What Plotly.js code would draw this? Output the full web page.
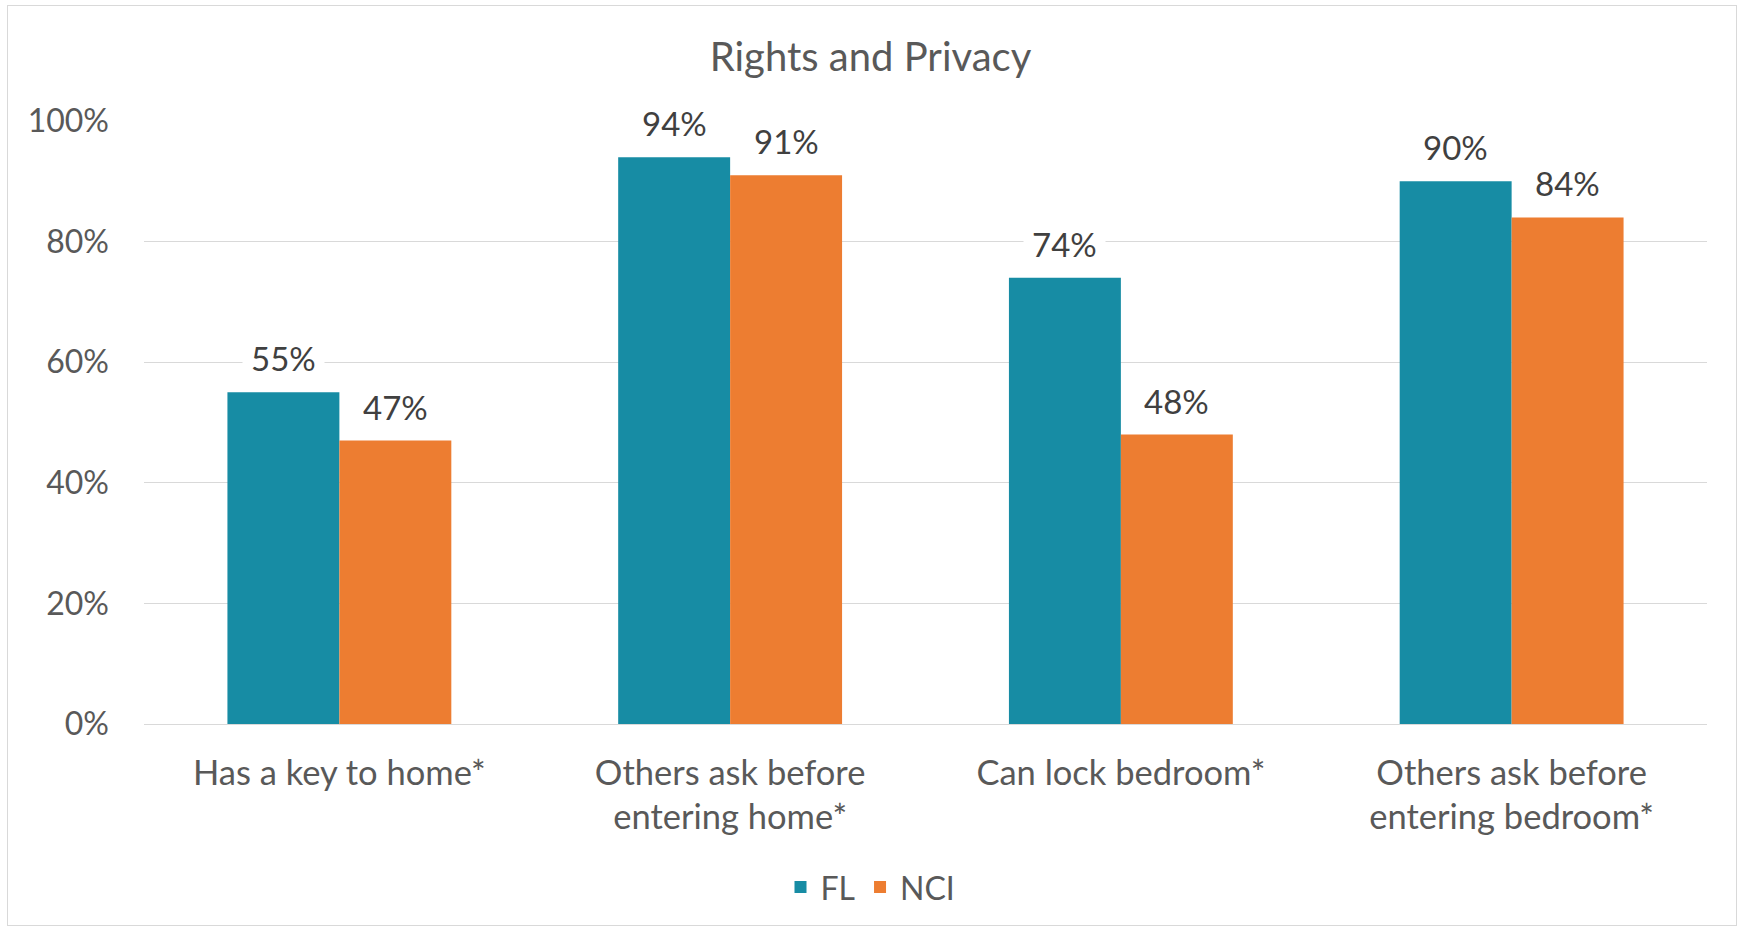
<!DOCTYPE html>
<html>
<head>
<meta charset="utf-8">
<script src="https://cdn.plot.ly/plotly-3.0.1.min.js"></script>
<style>
  html, body { margin: 0; padding: 0; background: #ffffff; }
  #chart { position: absolute; left: 0; top: 0; width: 1741px; height: 930px; }
  #frame { position: absolute; left: 7px; top: 5px; width: 1728px; height: 919px; border: 1px solid #d9d9d9; pointer-events: none; }
</style>
</head>
<body>
<div id="chart"></div>
<div id="frame"></div>
<script>
// ---- data ----
const categories = [
  'Has a key to home*',
  'Others ask before<br>entering home*',
  'Can lock bedroom*',
  'Others ask before<br>entering bedroom*'
];
const seriesNames = ['FL', 'NCI'];
const flValues  = [0.55, 0.94, 0.74, 0.90];
const nciValues = [0.47, 0.91, 0.48, 0.84];
const yTickVals = [0, 0.2, 0.4, 0.6, 0.8, 1.0];
const yTickText = ['0%', '20%', '40%', '60%', '80%', '100%'];
const chartTitle = 'Rights and Privacy';

// ---- style ----
const FONT = 'Lato, "Open Sans", sans-serif';
const colors = ['#178CA4', '#ED7D31'];
const seriesValues = [flValues, nciValues];
const labelXShift = [-56, 56];

const traces = seriesValues.map((vals, i) => ({
  type: 'bar',
  name: seriesNames[i],
  x: categories,
  y: vals,
  marker: { color: colors[i] },
  hoverinfo: 'skip'
}));

const annotations = [];
seriesValues.forEach((vals, i) => {
  vals.forEach((v, j) => {
    annotations.push({
      xref: 'x', yref: 'y',
      x: categories[j], y: v,
      text: Math.round(v * 100) + '%',
      showarrow: false,
      xanchor: 'center', yanchor: 'middle',
      xshift: labelXShift[i], yshift: 34,
      bgcolor: '#ffffff',
      borderpad: 8,
      font: { family: FONT, size: 33, color: '#404040' }
    });
  });
});

const layout = {
  width: 1741,
  height: 930,
  margin: { l: 144, r: 34, t: 121, b: 206 },
  paper_bgcolor: '#ffffff',
  plot_bgcolor: '#ffffff',
  font: { family: FONT, color: '#595959' },
  title: {
    text: chartTitle,
    font: { family: FONT, size: 40, color: '#595959' },
    xref: 'container', x: 0.5, xanchor: 'center',
    yref: 'container', y: 0.939, yanchor: 'middle'
  },
  barmode: 'group',
  bargap: 0.427,
  bargroupgap: 0,
  xaxis: {
    type: 'category',
    showgrid: false,
    showline: false,
    ticks: '',
    ticklabelstandoff: 25,
    tickfont: { family: FONT, size: 34.5, color: '#595959' }
  },
  yaxis: {
    range: [0, 1],
    tickvals: yTickVals,
    ticktext: yTickText,
    showgrid: true,
    gridcolor: '#d9d9d9',
    gridwidth: 1,
    zeroline: true,
    zerolinecolor: '#d9d9d9',
    zerolinewidth: 1,
    showline: false,
    ticks: '',
    ticklabelstandoff: 34,
    tickfont: { family: FONT, size: 32, color: '#595959' }
  },
  showlegend: true,
  legend: {
    orientation: 'h',
    xref: 'container', x: 0.5, xanchor: 'center',
    yref: 'container', y: 0.046, yanchor: 'middle',
    font: { family: FONT, size: 32, color: '#595959' },
    traceorder: 'normal'
  },
  annotations: annotations
};

Plotly.newPlot('chart', traces, layout, { staticPlot: true, displayModeBar: false });
</script>
</body>
</html>
